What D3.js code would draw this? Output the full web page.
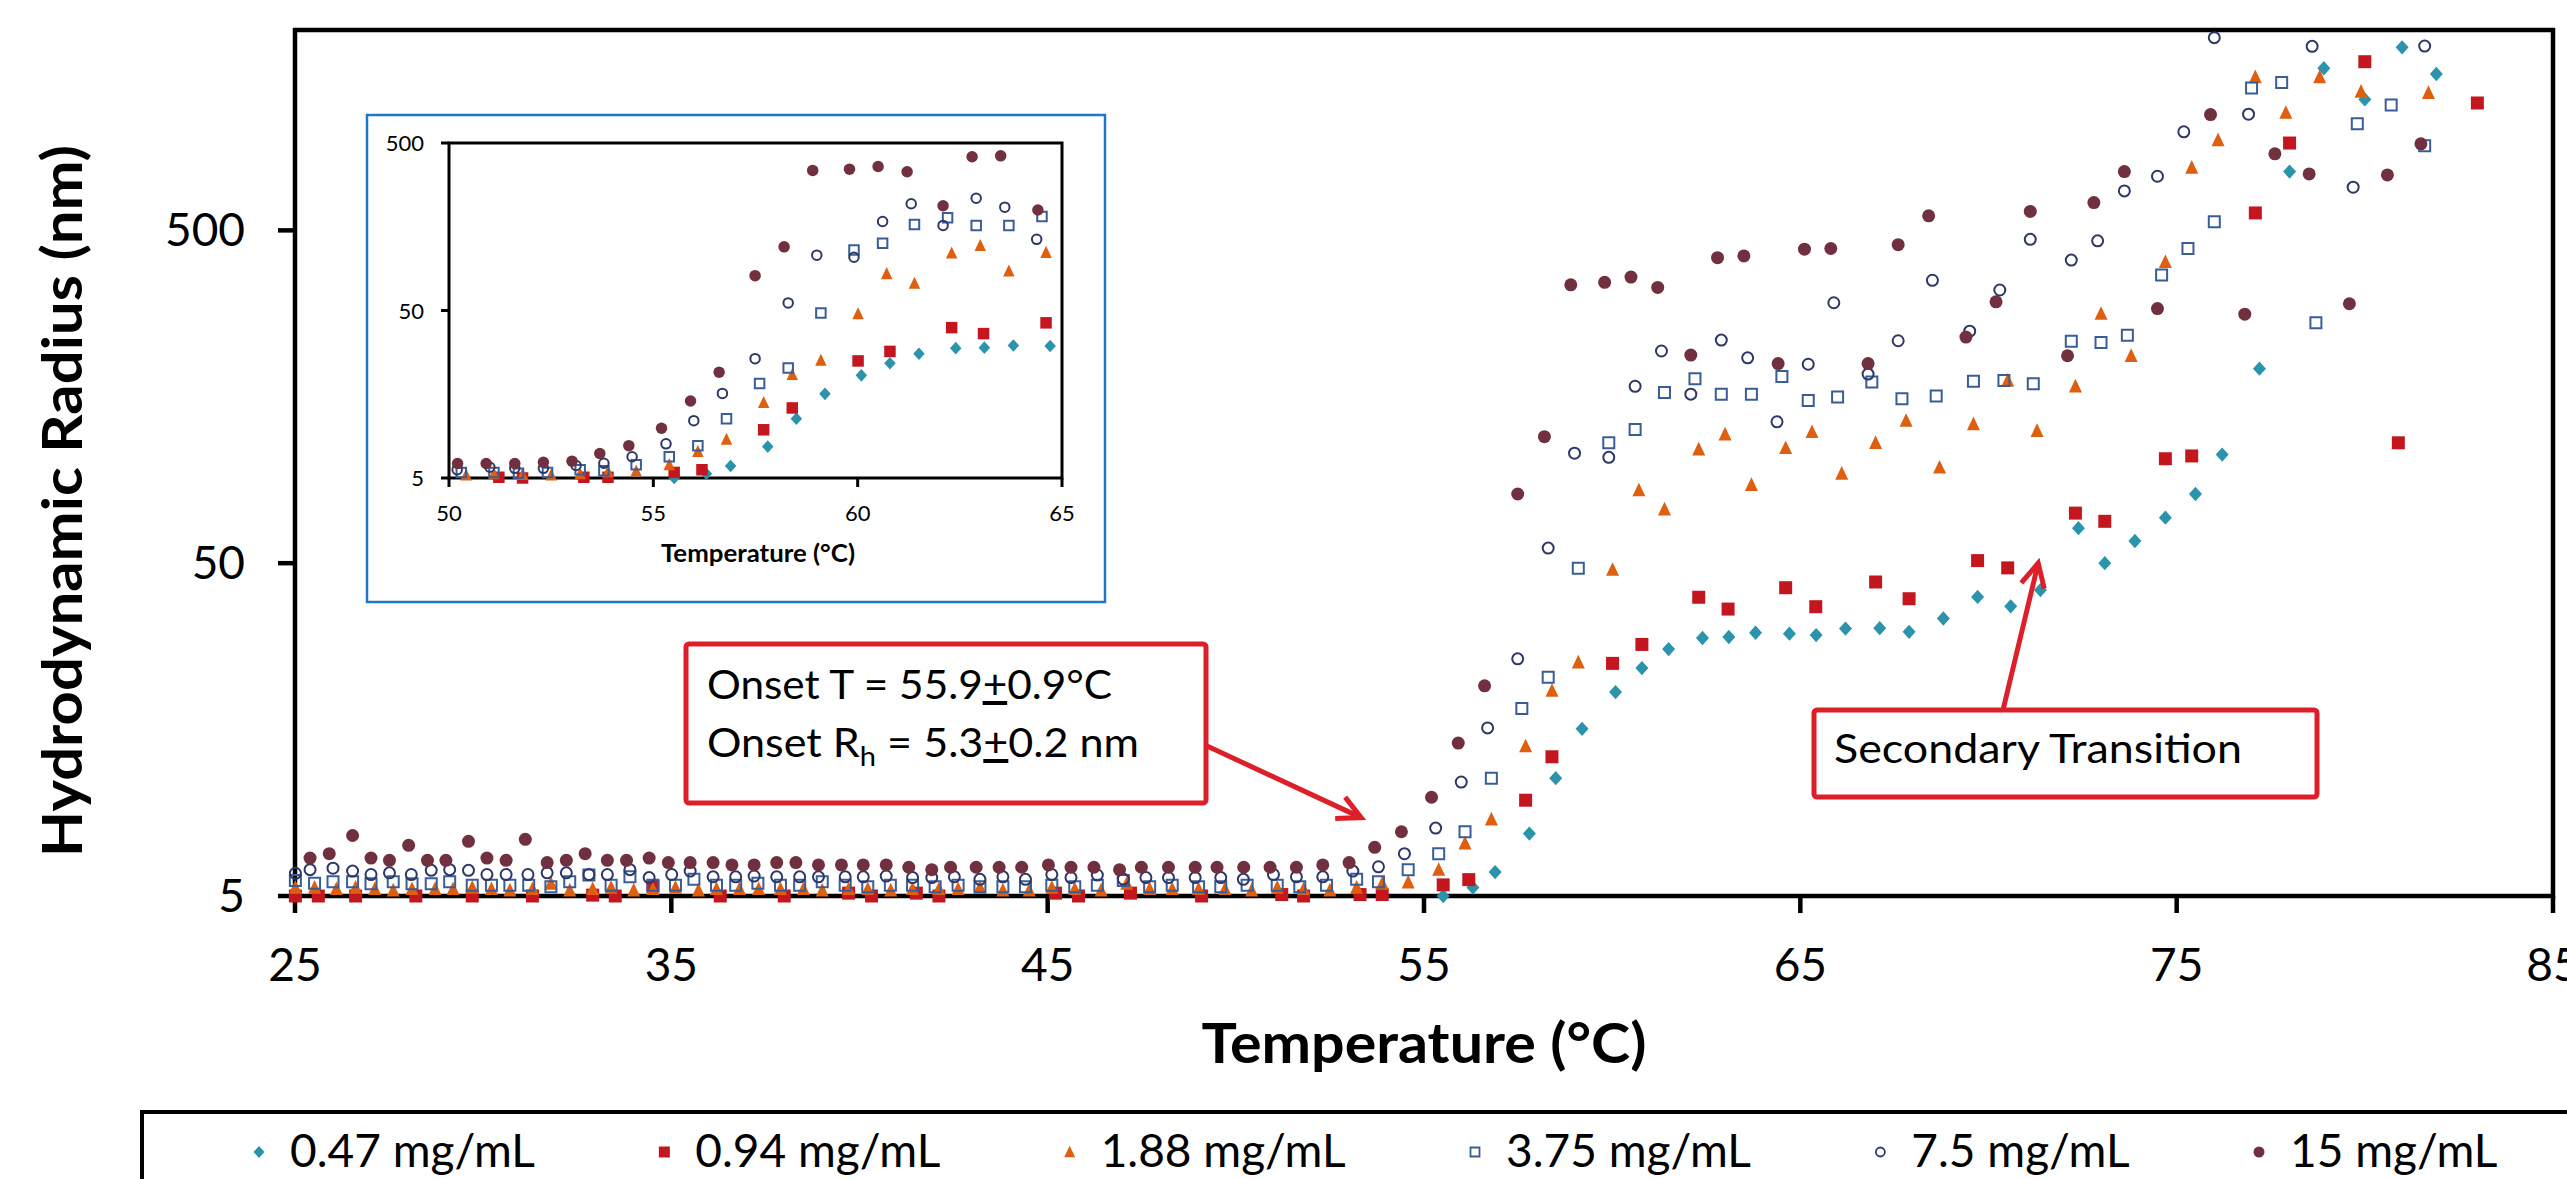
<!DOCTYPE html>
<html>
<head>
<meta charset="utf-8">
<script src="https://cdn.jsdelivr.net/npm/d3@7"></script>
<style>
  html, body { margin: 0; padding: 0; background: #fff; }
  svg { display: block; }
</style>
</head>
<body>
<svg id="chart" width="2567" height="1179"></svg>
<script>
// ---- data (temperature in °C, hydrodynamic radius in nm) ----
var seriesNames = ["0.47 mg/mL", "0.94 mg/mL", "1.88 mg/mL", "3.75 mg/mL", "7.5 mg/mL", "15 mg/mL"];

var temp047 = [55.51, 56.30, 56.89, 57.80, 58.50, 59.20, 60.09, 60.79, 61.50, 62.40, 63.10, 63.81, 64.71, 65.42,
  66.20, 67.11, 67.89, 68.80, 69.71, 70.59, 71.38, 72.39, 73.09, 73.89, 74.70, 75.50, 76.21, 77.20, 78.00,
  78.91, 80.00, 80.99, 81.90];
var rh047 = [5.0, 5.3, 5.9, 7.7, 11.3, 15.9, 20.5, 24.2, 27.6, 29.8, 30.0, 30.9, 30.7, 30.4,
  31.8, 31.9, 31.1, 34.1, 39.6, 37.1, 41.5, 63.7, 50.0, 58.3, 68.5, 80.7, 106, 192, 751,
  1535, 1237, 1774, 1475];

var temp094 = [25.01, 25.62, 26.61, 28.21, 29.71, 31.31, 32.91, 33.51, 34.51, 36.30, 38.00, 39.71, 40.32,
  41.51, 42.11, 45.21, 45.82, 47.20, 49.09, 51.22, 51.80, 53.30, 53.89,
  55.51, 56.19, 57.70, 58.40, 60.01, 60.79, 62.30, 63.08, 64.61, 65.41, 67.00, 67.89, 69.71, 70.51,
  72.31, 73.09, 74.70, 75.40, 77.09, 78.00, 80.00, 80.89, 82.99];
var rh094 = [5.0, 5.0, 5.0, 5.0, 5.0, 5.0, 5.03, 5.0, 5.35, 5.0, 5.0, 5.1, 5.0,
  5.1, 5.0, 5.1, 5.0, 5.1, 5.0, 5.05, 5.0, 5.05, 5.05,
  5.4, 5.6, 9.7, 13.1, 25.0, 28.5, 39.5, 36.4, 42.2, 37.0, 43.9, 39.1, 50.9, 48.4,
  70.7, 66.8, 103, 105, 564, 915, 1606, 115, 1207];

var temp188 = [25.01, 25.52, 26.10, 26.61, 27.12, 27.61, 28.11, 28.72, 29.20, 29.71, 30.22, 30.71, 31.31,
  31.80, 32.30, 32.91, 33.40, 34.00, 34.51, 35.11, 35.72, 36.20, 36.81, 37.32, 37.90, 38.51, 39.01,
  39.71, 40.22, 40.83, 41.41, 42.11, 42.62, 43.20, 43.81, 44.51, 45.11, 45.72, 46.42, 47.10, 47.71,
  48.31, 49.01, 49.71, 50.42, 51.10, 51.80, 52.50, 53.21, 53.89,
  54.58, 55.39, 56.09, 56.79, 57.70, 58.40, 59.10, 60.01, 60.71, 61.39, 62.30, 63.00, 63.70, 64.61,
  65.31, 66.10, 67.00, 67.81, 68.70, 69.60, 70.51, 71.29, 72.31, 72.99, 73.79, 74.70, 75.40, 76.10,
  77.09, 77.90, 78.80, 79.90, 81.69];
var rh188 = [5.3, 5.3, 5.25, 5.3, 5.25, 5.2, 5.25, 5.25, 5.25, 5.3, 5.25, 5.2, 5.25,
  5.45, 5.2, 5.25, 5.3, 5.2, 5.25, 5.3, 5.2, 5.25, 5.25, 5.25, 5.25, 5.25, 5.2,
  5.25, 5.25, 5.2, 5.25, 5.25, 5.25, 5.3, 5.2, 5.2, 5.3, 5.25, 5.2, 5.45, 5.25,
  5.25, 5.25, 5.25, 5.2, 5.3, 5.25, 5.2, 5.3, 5.45,
  5.5, 6.0, 7.2, 8.5, 14.1, 20.7, 25.2, 47.8, 82.9, 72.6, 110, 122, 86, 111,
  124, 93, 115, 134, 97, 131, 177, 125, 170, 281, 210, 402, 772, 934,
  1445, 1129, 1445, 1306, 1296];

var temp375 = [25.01, 25.52, 26.01, 26.53, 27.02, 27.61, 28.11, 28.62, 29.11, 29.71, 30.22, 30.71, 31.21,
  31.80, 32.30, 32.81, 33.40, 33.90, 34.51, 35.11, 35.60, 36.20, 36.71, 37.30, 37.90, 38.41, 39.01,
  39.62, 40.22, 40.82, 41.41, 42.01, 42.62, 43.20, 43.81, 44.41, 45.11, 45.72, 46.32, 47.01, 47.71,
  48.31, 49.01, 49.60, 50.30, 51.10, 51.70, 52.41, 53.21, 53.79,
  54.58, 55.39, 56.09, 56.79, 57.60, 58.30, 59.10, 59.91, 60.61, 61.39, 62.20, 62.90, 63.70, 64.51,
  65.21, 65.99, 66.90, 67.70, 68.61, 69.60, 70.41, 71.19, 72.20, 72.99, 73.69, 74.60, 75.30, 76.00,
  76.99, 77.79, 78.70, 79.80, 80.70, 81.59];
var rh375 = [5.57, 5.46, 5.52, 5.52, 5.44, 5.52, 5.44, 5.44, 5.52, 5.39, 5.39, 5.39, 5.39,
  5.33, 5.52, 5.78, 5.39, 5.71, 5.39, 5.39, 5.61, 5.39, 5.39, 5.46, 5.39, 5.39, 5.52,
  5.39, 5.33, 5.39, 5.39, 5.33, 5.39, 5.33, 5.33, 5.33, 5.39, 5.33, 5.39, 5.57, 5.33,
  5.39, 5.33, 5.33, 5.39, 5.39, 5.33, 5.39, 5.61, 5.52,
  6.0, 6.7, 7.8, 11.3, 18.3, 22.7, 48.3, 115, 126, 163, 179, 161, 161, 182,
  154, 158, 175, 156, 159, 176, 177, 173, 232, 230, 242, 367, 441, 531,
  1340, 1391, 264, 1046, 1190, 898];

var temp75 = [25.01, 25.40, 26.01, 26.53, 27.02, 27.51, 28.09, 28.62, 29.11, 29.61, 30.10, 30.61, 31.19,
  31.70, 32.21, 32.81, 33.30, 33.90, 34.41, 35.01, 35.50, 36.11, 36.71, 37.20, 37.80, 38.41, 38.91,
  39.62, 40.10, 40.71, 41.41, 41.92, 42.52, 43.20, 43.81, 44.41, 45.11, 45.62, 46.32, 47.01, 47.61,
  48.21, 48.92, 49.60, 50.20, 51.00, 51.61, 52.31, 53.11, 53.79,
  54.48, 55.31, 55.99, 56.69, 57.49, 58.30, 59.00, 59.91, 60.61, 61.31, 62.09, 62.90, 63.60, 64.38,
  65.21, 65.89, 66.80, 67.60, 68.51, 69.50, 70.30, 71.11, 72.20, 72.90, 73.61, 74.49, 75.19, 76.00,
  76.91, 78.60, 79.69, 81.59];
var rh75 = [5.85, 6.0, 6.06, 5.94, 5.8, 5.87, 5.8, 5.97, 6.0, 5.97, 5.8, 5.8, 5.8,
  5.87, 5.87, 5.8, 5.8, 6.0, 5.68, 5.8, 5.94, 5.71, 5.71, 5.74, 5.71, 5.71, 5.71,
  5.71, 5.71, 5.74, 5.68, 5.68, 5.71, 5.61, 5.71, 5.61, 5.8, 5.68, 5.78, 5.62, 5.68,
  5.68, 5.68, 5.68, 5.61, 5.8, 5.71, 5.71, 5.94, 6.12,
  6.7, 8.0, 11.0, 16.0, 25.8, 55.5, 107, 104, 170, 217, 161, 234, 207, 133,
  198, 303, 185, 233, 354, 249, 331, 470, 407, 465, 657, 727, 989, 1897,
  1117, 1786, 674, 1790];

var temp15 = [25.40, 25.91, 26.53, 27.02, 27.51, 28.02, 28.52, 29.01, 29.61, 30.10, 30.61, 31.12, 31.70,
  32.21, 32.71, 33.30, 33.81, 34.41, 34.92, 35.50, 36.11, 36.61, 37.20, 37.80, 38.31, 38.91, 39.52,
  40.10, 40.71, 41.31, 41.92, 42.42, 43.10, 43.71, 44.31, 45.02, 45.62, 46.23, 46.91, 47.49, 48.21,
  48.92, 49.50, 50.21, 50.91, 51.61, 52.31, 53.01, 53.69,
  54.40, 55.20, 55.91, 56.61, 57.49, 58.20, 58.90, 59.80, 60.50, 61.21, 62.09, 62.80, 63.50, 64.41,
  65.11, 65.81, 66.80, 67.60, 68.41, 69.40, 70.20, 71.11, 72.10, 72.80, 73.61, 74.49, 75.90, 76.81,
  77.61, 78.52, 79.59, 80.60, 81.49];
var rh15 = [6.5, 6.7, 7.6, 6.5, 6.4, 7.1, 6.4, 6.4, 7.3, 6.5, 6.4, 7.4, 6.3,
  6.4, 6.7, 6.4, 6.4, 6.5, 6.3, 6.3, 6.3, 6.2, 6.2, 6.3, 6.3, 6.2, 6.2,
  6.2, 6.2, 6.1, 6.0, 6.1, 6.1, 6.1, 6.1, 6.2, 6.1, 6.1, 6.0, 6.1, 6.1,
  6.1, 6.1, 6.1, 6.1, 6.1, 6.2, 6.3, 7.0,
  7.8, 9.9, 14.4, 21.4, 80.7, 120, 343, 349, 362, 337, 211, 414, 419, 199,
  439, 441, 199, 453, 553, 239, 305, 570, 210, 606, 751, 291, 1114, 280,
  849, 739, 301, 734, 910];

var xTicks = [25, 35, 45, 55, 65, 75, 85];
var yTicks = [5, 50, 500];
var insetXTicks = [50, 55, 60, 65];
var insetYTicks = [5, 50, 500];

var onsetLines = ["Onset T = 55.9", "Onset R"];
var secondaryLabel = "Secondary Transition";

// ---- build series ----
var temps = [temp047, temp094, temp188, temp375, temp75, temp15];
var radii = [rh047, rh094, rh188, rh375, rh75, rh15];
var shapes = ["diamond", "square", "triangle", "openSquare", "openCircle", "circle"];
var colors = ["#2b93ab", "#c3161f", "#de5f10", "#3a5d97", "#2e3866", "#71303f"];

var series = seriesNames.map(function (name, i) {
  return {
    name: name, shape: shapes[i], color: colors[i],
    values: temps[i].map(function (t, j) { return { t: t, r: radii[i][j] }; })
  };
});

var font = "Lato, sans-serif";
var red = "#dd1f2a";

function markerPath(shape, s) {
  var h = s / 2;
  if (shape === "diamond") return "M0," + (-h * 1.1) + "L" + h + ",0L0," + (h * 1.1) + "L" + (-h) + ",0Z";
  if (shape === "square" || shape === "openSquare") return "M" + (-h) + "," + (-h) + "h" + s + "v" + s + "h" + (-s) + "Z";
  if (shape === "triangle") return "M0," + (-h * 1.15) + "L" + h + "," + (h * 0.95) + "L" + (-h) + "," + (h * 0.95) + "Z";
  var r = h;
  return "M" + r + ",0A" + r + "," + r + " 0 1,1 " + (-r) + ",0A" + r + "," + r + " 0 1,1 " + r + ",0Z";
}
function isOpen(shape) { return shape === "openSquare" || shape === "openCircle"; }

function drawMarkers(g, s, pts, xs, ys, size, sw) {
  g.selectAll("path")
    .data(pts)
    .enter().append("path")
    .attr("transform", function (d) { return "translate(" + xs(d.t) + "," + ys(d.r) + ")"; })
    .attr("d", markerPath(s.shape, isOpen(s.shape) ? size - sw : size))
    .attr("fill", isOpen(s.shape) ? "none" : s.color)
    .attr("stroke", isOpen(s.shape) ? s.color : "none")
    .attr("stroke-width", sw);
}

// stretch a label to the width it has in the original (Calibri is wider than Lato)
function stretch(sel, w) {
  return sel.attr("textLength", w).attr("lengthAdjust", "spacingAndGlyphs");
}

var svg = d3.select("#chart");

// ---- main plot ----
var margin = { left: 295, right: 2553, top: 30, bottom: 896 };
var x = d3.scaleLinear().domain([25, 85]).range([margin.left, margin.right]);
var y = d3.scaleLog().domain([5, 2000]).range([margin.bottom, margin.top]);

var axisG = svg.append("g").attr("stroke", "#000").attr("stroke-width", 4.5);
axisG.append("rect")
  .attr("x", margin.left).attr("y", margin.top)
  .attr("width", margin.right - margin.left).attr("height", margin.bottom - margin.top)
  .attr("fill", "none");
axisG.selectAll("line.yt").data(yTicks).enter().append("line")
  .attr("x1", margin.left - 17).attr("x2", margin.left)
  .attr("y1", function (d) { return y(d); }).attr("y2", function (d) { return y(d); });
axisG.selectAll("line.xt").data(xTicks).enter().append("line")
  .attr("x1", function (d) { return x(d); }).attr("x2", function (d) { return x(d); })
  .attr("y1", margin.bottom).attr("y2", margin.bottom + 17);

svg.append("g").selectAll("text").data(yTicks).enter().append("text")
  .attr("x", 245).attr("y", function (d) { return y(d) + 16; })
  .attr("text-anchor", "end").attr("font-family", font).attr("font-size", 46)
  .text(function (d) { return d; });
svg.append("g").selectAll("text").data(xTicks).enter().append("text")
  .attr("x", function (d) { return x(d); }).attr("y", 981)
  .attr("text-anchor", "middle").attr("font-family", font).attr("font-size", 46)
  .text(function (d) { return d; });

stretch(svg.append("text")
  .attr("transform", "translate(82,501) rotate(-90)")
  .attr("text-anchor", "middle").attr("font-family", font).attr("font-size", 56).attr("font-weight", "bold")
  .text("Hydrodynamic Radius (nm)"), 712);
stretch(svg.append("text")
  .attr("x", (margin.left + margin.right) / 2).attr("y", 1063)
  .attr("text-anchor", "middle").attr("font-family", font).attr("font-size", 56).attr("font-weight", "bold")
  .text("Temperature (°C)"), 445);

var dataG = svg.append("g");
series.forEach(function (s) {
  var pts = s.values.filter(function (d) { return d.t >= 25 && d.t <= 85 && d.r >= 5 && d.r <= 2000; });
  drawMarkers(dataG.append("g"), s, pts, x, y, 13, 2);
});

// ---- inset ----
var inset = { left: 449, right: 1062, top: 143, bottom: 478 };
var ix = d3.scaleLinear().domain([50, 65]).range([inset.left, inset.right]);
var iy = d3.scaleLog().domain([5, 500]).range([inset.bottom, inset.top]);

svg.append("rect")
  .attr("x", 367).attr("y", 115).attr("width", 738).attr("height", 487)
  .attr("fill", "#fff").attr("stroke", "#1f77c6").attr("stroke-width", 2.5);

var iAxis = svg.append("g").attr("stroke", "#000").attr("stroke-width", 3);
iAxis.append("rect")
  .attr("x", inset.left).attr("y", inset.top)
  .attr("width", inset.right - inset.left).attr("height", inset.bottom - inset.top)
  .attr("fill", "none");
iAxis.selectAll("line.yt").data(insetYTicks).enter().append("line")
  .attr("x1", inset.left - 8).attr("x2", inset.left)
  .attr("y1", function (d) { return iy(d); }).attr("y2", function (d) { return iy(d); });
iAxis.selectAll("line.xt").data(insetXTicks).enter().append("line")
  .attr("x1", function (d) { return ix(d); }).attr("x2", function (d) { return ix(d); })
  .attr("y1", inset.bottom).attr("y2", inset.bottom + 9);

svg.append("g").selectAll("text").data(insetYTicks).enter().append("text")
  .attr("x", 424).attr("y", function (d) { return iy(d) + 8; })
  .attr("text-anchor", "end").attr("font-family", font).attr("font-size", 22)
  .text(function (d) { return d; });
svg.append("g").selectAll("text").data(insetXTicks).enter().append("text")
  .attr("x", function (d) { return ix(d); }).attr("y", 521)
  .attr("text-anchor", "middle").attr("font-family", font).attr("font-size", 22)
  .text(function (d) { return d; });
stretch(svg.append("text")
  .attr("x", 758).attr("y", 562)
  .attr("text-anchor", "middle").attr("font-family", font).attr("font-size", 24).attr("font-weight", "bold")
  .text("Temperature (°C)"), 194);

var insetData = svg.append("g");
series.forEach(function (s) {
  var pts = s.values.filter(function (d) { return d.t >= 50 && d.t <= 65 && d.r >= 5 && d.r <= 500; });
  drawMarkers(insetData.append("g"), s, pts, ix, iy, 11.5, 2);
});

// ---- annotations ----
function arrow(g, x1, y1, x2, y2) {
  var dx = x2 - x1, dy = y2 - y1, len = Math.sqrt(dx * dx + dy * dy);
  var ux = dx / len, uy = dy / len, a = 27 * Math.PI / 180, w = 26;
  function wing(sign) {
    var c = Math.cos(a), sn = Math.sin(a) * sign;
    return [x2 - w * (ux * c - uy * sn), y2 - w * (uy * c + ux * sn)];
  }
  var l = wing(1), r = wing(-1);
  g.append("line").attr("x1", x1).attr("y1", y1).attr("x2", x2).attr("y2", y2)
    .attr("stroke", red).attr("stroke-width", 5);
  g.append("path")
    .attr("d", "M" + l[0] + "," + l[1] + "L" + x2 + "," + y2 + "L" + r[0] + "," + r[1])
    .attr("fill", "none").attr("stroke", red).attr("stroke-width", 5).attr("stroke-linejoin", "miter");
}

var ann = svg.append("g");
ann.append("rect")
  .attr("x", 686).attr("y", 644).attr("width", 520).attr("height", 159).attr("rx", 3)
  .attr("fill", "#fff").attr("stroke", red).attr("stroke-width", 5);
var t1 = ann.append("text").attr("x", 707).attr("y", 699)
  .attr("font-family", font).attr("font-size", 40);
t1.append("tspan").text(onsetLines[0]);
t1.append("tspan").style("text-decoration", "underline").text("+");
t1.append("tspan").text("0.9°C");
stretch(t1, 405);
var t2 = ann.append("text").attr("x", 707).attr("y", 757)
  .attr("font-family", font).attr("font-size", 40);
t2.append("tspan").text(onsetLines[1]);
t2.append("tspan").attr("font-size", 27).attr("dy", 9).text("h");
t2.append("tspan").attr("dy", -9).text(" = 5.3");
t2.append("tspan").style("text-decoration", "underline").text("+");
t2.append("tspan").text("0.2 nm");
stretch(t2, 432);
arrow(ann, 1207, 746, x(53.33), y(8.6));

ann.append("rect")
  .attr("x", 1814).attr("y", 710).attr("width", 503).attr("height", 87).attr("rx", 3)
  .attr("fill", "#fff").attr("stroke", red).attr("stroke-width", 5);
stretch(ann.append("text").attr("x", 1834).attr("y", 763)
  .attr("font-family", font).attr("font-size", 40)
  .text(secondaryLabel), 408);
arrow(ann, 2003, 710, x(71.32), y(50));

// ---- legend ----
var legend = svg.append("g");
legend.append("rect")
  .attr("x", 142).attr("y", 1112).attr("width", 2600).attr("height", 200)
  .attr("fill", "#fff").attr("stroke", "#000").attr("stroke-width", 4);
var items = legend.selectAll("g.item").data(series).enter().append("g").attr("class", "item");
items.append("text")
  .attr("y", 1167).attr("font-family", font).attr("font-size", 46)
  .text(function (d) { return d.name; });
var widths = [];
items.select("text").each(function () { widths.push(this.getComputedTextLength()); });
var first = 259, last = 2259, off = 31;
var used = d3.sum(widths.slice(0, 5)) + 5 * off;
var gap = (last - first - used) / 5;
var lx = first;
items.each(function (d, i) {
  var it = d3.select(this);
  it.select("text").attr("x", lx + off);
  it.append("path")
    .attr("transform", "translate(" + lx + ",1152)")
    .attr("d", markerPath(d.shape, isOpen(d.shape) ? 9 : 11))
    .attr("fill", isOpen(d.shape) ? "none" : d.color)
    .attr("stroke", isOpen(d.shape) ? d.color : "none")
    .attr("stroke-width", 1.8);
  lx += off + widths[i] + gap;
});
</script>
</body>
</html>
